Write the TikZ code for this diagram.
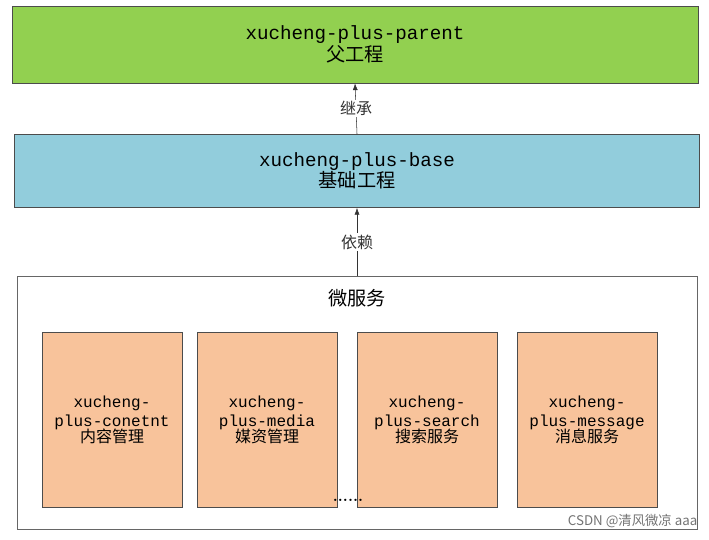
\documentclass[tikz,border=0pt]{standalone}
\usepackage{fontspec}
\setmonofont{Liberation Mono}
\newfontfamily\cjk{Noto Sans CJK SC}
\usetikzlibrary{arrows.meta,positioning}
\definecolor{parentgreen}{HTML}{92D050}
\definecolor{baseblue}{HTML}{92CDDC}
\definecolor{svcorange}{HTML}{F8C39B}
\begin{document}
\begin{tikzpicture}[x=0.75pt,y=-0.75pt]
    \tikzset{
        layer/.style={rectangle,draw=black!70,minimum width=514pt,minimum height=55pt,align=center,font=\ttfamily\Large},
        svcbox/.style={rectangle,draw=black!70,fill=svcorange,minimum width=105pt,minimum height=131pt,align=center,font=\ttfamily\large},
        tag/.style={fill=white,inner sep=1pt,font=\cjk\large},
        dep/.style={-{Latex[length=5pt]},black!80}
    }
    \useasboundingbox (0,0) rectangle (709,539);
    % Parent and base
    \node[layer,fill=parentgreen,minimum width=514.5pt,minimum height=58pt] (parent) at (355,44.5) {xucheng-plus-parent\\[-2pt]{\cjk 父工程}};
    \node[layer,fill=baseblue] (base) at (357,171) {xucheng-plus-base\\[-2pt]{\cjk 基础工程}};
    % Micro services
    \node[rectangle,draw=black!60,minimum width=510pt,minimum height=190pt] (svc) at (357,403) {};
    \node[font=\cjk\Large] (svctitle) at (357,298) {微服务};
    \node[svcbox] (content) at (112,420) {xucheng-\\plus-conetnt\\[-2pt]{\cjk 内容管理}};
    \node[svcbox] (media) at (267,420) {xucheng-\\plus-media\\[-2pt]{\cjk 媒资管理}};
    \node[svcbox] (search) at (427,420) {xucheng-\\plus-search\\[-2pt]{\cjk 搜索服务}};
    \node[svcbox] (message) at (587,420) {xucheng-\\plus-message\\[-2pt]{\cjk 消息服务}};
    \node[font=\bfseries\large] (more) at (348,500) {......};
    % Arrows
    \draw[dep] (base.north) -- node[tag] {继承} (parent.south);
    \draw[dep] (svc.north) -- node[tag] {依赖} (base.south);
    \node[font=\cjk,text=black!55,anchor=east] (mark) at (702,521) {CSDN @清风微凉 aaa};
\end{tikzpicture}
\end{document}
